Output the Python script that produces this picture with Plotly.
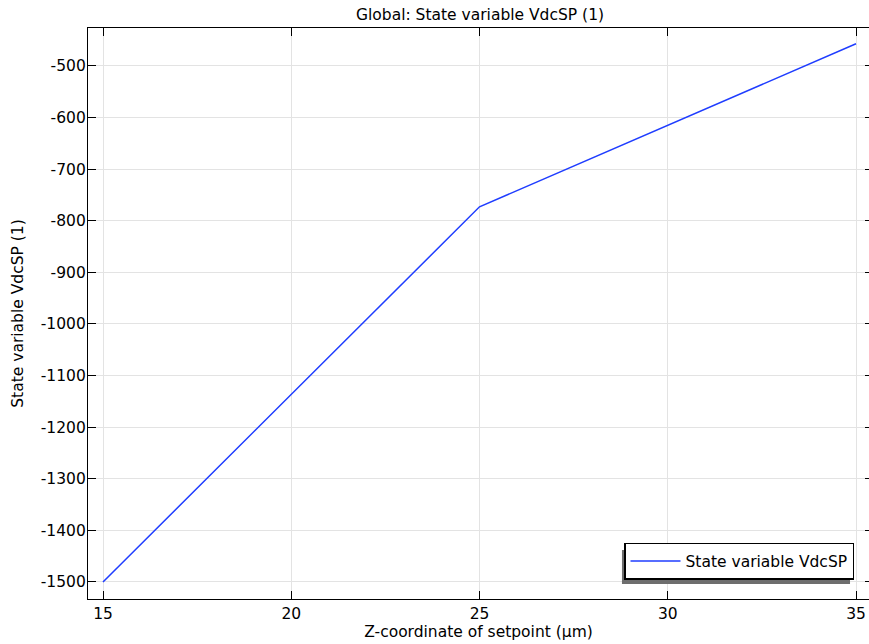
import plotly.graph_objects as go

x_vals = [15, 25, 35]
y_vals = [-1500, -773, -457]
x_ticks = [15, 20, 25, 30, 35]
y_ticks = [-500, -600, -700, -800, -900, -1000, -1100, -1200, -1300, -1400, -1500]
series_name = "State variable VdcSP"

FONT = "DejaVu Sans"
FS = 15.5
Y_RANGE = [-1533, -426.4]

fig = go.Figure()
fig.add_trace(go.Scatter(
    x=x_vals, y=y_vals, mode="lines", name=series_name,
    line=dict(color="#1f3dff", width=1.5),
    showlegend=True,
))
# invisible copy that carries the right-hand tick axis
fig.add_trace(go.Scatter(
    x=x_vals, y=y_vals, mode="lines", yaxis="y2", showlegend=False,
    line=dict(color="rgba(0,0,0,0)", width=0), hoverinfo="skip",
))

tick_common = dict(
    ticks="inside", ticklen=8, tickwidth=1.2, tickcolor="black",
    zeroline=False,
    tickfont=dict(family=FONT, size=FS, color="black"),
)

fig.update_layout(
    width=869, height=644,
    margin=dict(l=88, r=0, t=28, b=45),
    paper_bgcolor="white", plot_bgcolor="white",
    font=dict(family=FONT, size=FS, color="black"),
    title=dict(text="Global: State variable VdcSP (1)", x=0.5524, xanchor="center",
               y=0.9767, yanchor="middle", font=dict(family=FONT, size=FS, color="black")),
    xaxis=dict(range=[14.6016, 35.3453], tickvals=x_ticks, ticktext=[str(v) for v in x_ticks],
               showline=True, linecolor="black", linewidth=1.3, mirror="ticks",
               showgrid=True, gridcolor="#e3e3e3", gridwidth=1,
               title=dict(text="Z-coordinate of setpoint (µm)", standoff=2,
                          font=dict(family=FONT, size=FS, color="black")),
               **tick_common),
    yaxis=dict(range=Y_RANGE, tickvals=y_ticks, ticktext=[str(v) for v in y_ticks],
               showline=True, linecolor="black", linewidth=1.3, mirror=False,
               showgrid=True, gridcolor="#e3e3e3", gridwidth=1,
               ticklabelstandoff=-2,
               title=dict(text="State variable VdcSP (1)", standoff=13,
                          font=dict(family=FONT, size=FS, color="black")),
               **tick_common),
    yaxis2=dict(range=Y_RANGE, tickvals=y_ticks, overlaying="y", side="right",
                showline=False, showgrid=False, showticklabels=False,
                ticks="inside", ticklen=4, tickwidth=1.2, tickcolor="black",
                zeroline=False),
    legend=dict(x=0.9808, y=0.0333, xanchor="right", yanchor="bottom",
                bgcolor="white", bordercolor="black", borderwidth=1.5,
                itemwidth=50,
                font=dict(family=FONT, size=FS, color="black")),
    shapes=[dict(type="rect", xref="paper", yref="paper",
                 x0=0.6837, x1=0.9757, y0=0.0263, y1=0.0858,
                 fillcolor="#6e6e6e", line=dict(width=0), layer="above")],
)

fig.write_html(
    "out.html",
    config={"displayModeBar": False},
    post_script="document.body.style.margin='0px';document.body.style.overflow='hidden';",
)
